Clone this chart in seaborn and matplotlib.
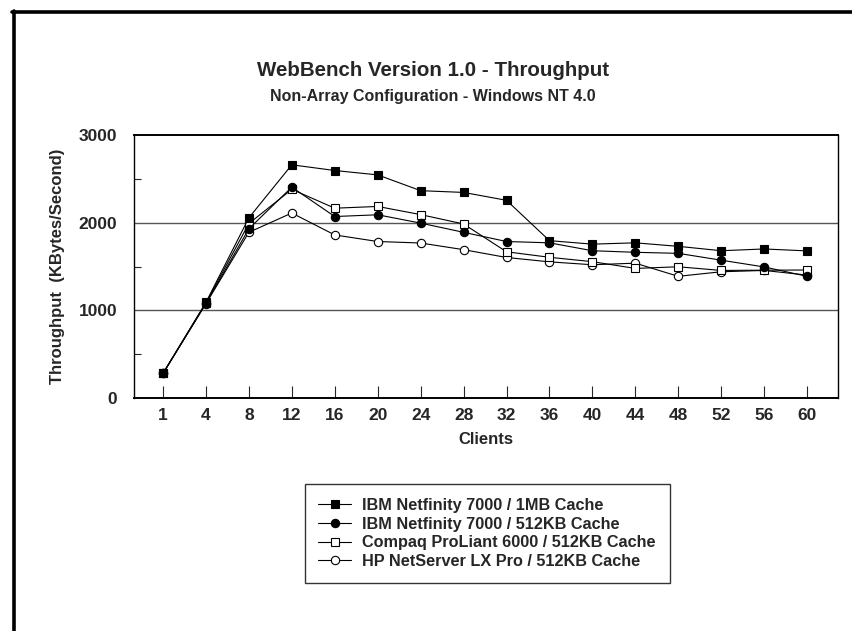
import numpy as np
import pandas as pd
import matplotlib
matplotlib.use("Agg")
import matplotlib.pyplot as plt
import seaborn as sns
from matplotlib.lines import Line2D

# ==================================================
# DATA
# ==================================================

clients = ["1", "4", "8", "12", "16", "20", "24", "28",
           "32", "36", "40", "44", "48", "52", "56", "60"]

ibm_1mb = [280, 1090, 2055, 2660, 2595, 2545, 2365, 2345,
           2255, 1795, 1755, 1770, 1730, 1680, 1700, 1678]
ibm_512 = [280, 1080, 1930, 2405, 2070, 2090, 1995, 1890,
           1785, 1770, 1680, 1662, 1650, 1572, 1495, 1388]
compaq_512 = [280, 1085, 1990, 2380, 2165, 2185, 2092, 1985,
              1668, 1605, 1555, 1478, 1497, 1455, 1458, 1460]
hp_512 = [280, 1075, 1890, 2110, 1860, 1785, 1768, 1692,
          1603, 1553, 1520, 1538, 1388, 1440, 1455, 1402]

series_names = [
    "IBM Netfinity 7000 / 1MB Cache",
    "IBM Netfinity 7000 / 512KB Cache",
    "Compaq ProLiant 6000 / 512KB Cache",
    "HP NetServer LX Pro / 512KB Cache",
]

# ==================================================
# STYLE
# ==================================================

sns.set_style("white")
plt.rcParams["font.family"] = ["Liberation Sans", "DejaVu Sans"]
plt.rcParams["font.weight"] = "bold"

fig = plt.figure(figsize=(8.52, 6.31), dpi=100)
ax = fig.add_axes([134 / 852, 1 - 398 / 631, 704 / 852, 263 / 631])

styles = [
    dict(marker="s", mfc="black"),
    dict(marker="o", mfc="black"),
    dict(marker="s", mfc="white"),
    dict(marker="o", mfc="white"),
]
all_series = [ibm_1mb, ibm_512, compaq_512, hp_512]

xpos = np.arange(len(clients))
# draw the HP series first so the IBM markers sit on top
for i in reversed(range(4)):
    df = pd.DataFrame({"x": xpos, "y": all_series[i]})
    sns.lineplot(
        data=df, x="x", y="y", ax=ax,
        color="black", linewidth=0.8,
        marker=styles[i]["marker"], markersize=6,
        markerfacecolor=styles[i]["mfc"], markeredgecolor="black",
        markeredgewidth=0.8, legend=False,
    )

# ==================================================
# AXES
# ==================================================

ax.set_xlim(-0.675, 15.72)
ax.set_ylim(0, 3000)
ax.set_xticks(xpos)
ax.set_xticklabels(clients)
ax.set_yticks([0, 1000, 2000, 3000])
ax.set_yticks([500, 1500, 2500], minor=True)

for y in [1000, 2000]:
    ax.axhline(y, color="#555555", linewidth=1.0, zorder=0)

ax.tick_params(axis="x", direction="in", length=9, width=0.8,
               pad=7, labelsize=12.5, bottom=True)
ax.tick_params(axis="y", which="major", direction="in", length=0,
               pad=12, labelsize=12.5, left=True)
ax.tick_params(axis="y", which="minor", direction="in", length=5,
               width=0.8, left=True)

for s in ["left", "bottom", "right"]:
    ax.spines[s].set_color("black")
    ax.spines[s].set_linewidth(1.0)
ax.spines["top"].set_color("black")
ax.spines["top"].set_linewidth(1.4)
ax.spines["bottom"].set_linewidth(1.4)

ax.set_xlabel("Clients", fontsize=12, fontweight="bold", labelpad=7)
ax.set_ylabel("Throughput  (KBytes/Second)", fontsize=12,
              fontweight="bold", labelpad=10)

# ==================================================
# TITLES
# ==================================================

fig.text(433 / 852, 1 - 71 / 631, "WebBench Version 1.0 - Throughput",
         ha="center", va="center", fontsize=14.8, fontweight="bold")
fig.text(433 / 852, 1 - 96 / 631, "Non-Array Configuration - Windows NT 4.0",
         ha="center", va="center", fontsize=11.5, fontweight="bold")

# ==================================================
# LEGEND
# ==================================================

handles = [
    Line2D([], [], color="black", linewidth=0.8, marker=st["marker"],
           markersize=6, markerfacecolor=st["mfc"],
           markeredgecolor="black", markeredgewidth=0.8)
    for st in styles
]
leg = fig.legend(
    handles, series_names,
    loc="center", bbox_to_anchor=(487 / 852, 1 - 533.5 / 631),
    frameon=True, fancybox=False, edgecolor="black",
    prop={"weight": "bold", "size": 11.7},
    handlelength=2.0, handletextpad=0.7, labelspacing=0.22,
    borderpad=0.85, borderaxespad=0,
)
leg.get_frame().set_linewidth(1.0)

# ==================================================
# FIGURE BORDER (left and top only visible)
# ==================================================

fig.add_artist(Line2D([13.5 / 852, 13.5 / 852], [0, 1 - 11 / 631],
                      color="black", linewidth=2.6, transform=fig.transFigure))
fig.add_artist(Line2D([12 / 852, 1], [1 - 11.5 / 631, 1 - 11.5 / 631],
                      color="black", linewidth=2.6, transform=fig.transFigure))

fig.savefig("out.png", dpi=100)
